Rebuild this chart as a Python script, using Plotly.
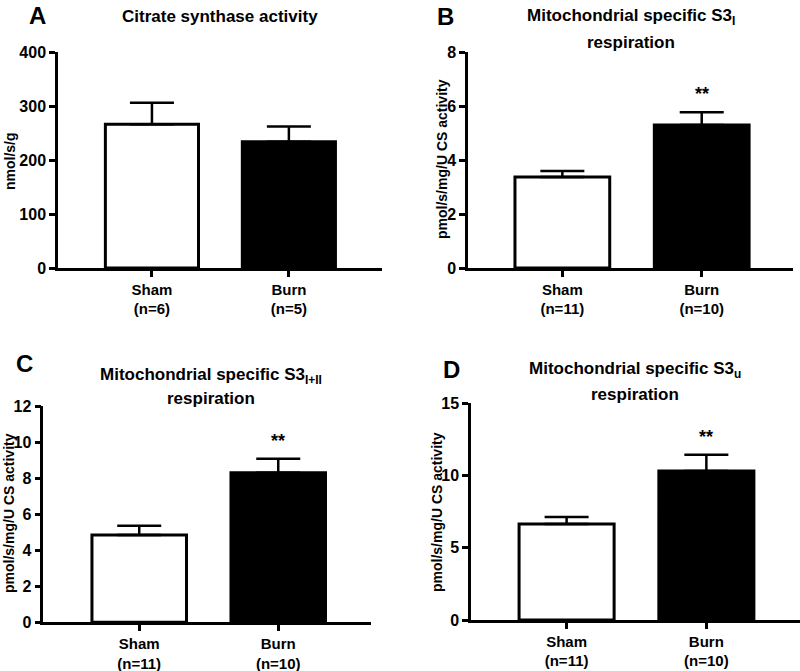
import plotly.graph_objects as go

groups = ["Sham", "Burn"]
n_A = ["(n=6)", "(n=5)"]
n_BCD = ["(n=11)", "(n=10)"]

cs_mean = [266, 234]
cs_sem = [40, 28]

s3i_mean = [3.37, 5.30]
s3i_sem = [0.22, 0.47]

s3iii_mean = [4.84, 8.30]
s3iii_sem = [0.52, 0.77]

s3u_mean = [6.65, 10.32]
s3u_sem = [0.48, 1.11]

sig_B = "**"
sig_C = "**"
sig_D = "**"

FONT = "Arial, Liberation Sans, sans-serif"
W, H = 800, 671

panels = [
    dict(mean=cs_mean, sem=cs_sem, ns=n_A, yr=[0, 400], dt=100,
         xd=[58/W, 382/W], yd=[1-268/H, 1-52/H], xr=[-0.686, 1.68], sig=None),
    dict(mean=s3i_mean, sem=s3i_sem, ns=n_BCD, yr=[0, 8], dt=2,
         xd=[468/W, 793/W], yd=[1-268/H, 1-52/H], xr=[-0.677, 1.655], sig=sig_B),
    dict(mean=s3iii_mean, sem=s3iii_sem, ns=n_BCD, yr=[0, 12], dt=2,
         xd=[43.3/W, 370.7/W], yd=[1-622.3/H, 1-406/H], xr=[-0.69, 1.665], sig=sig_C),
    dict(mean=s3u_mean, sem=s3u_sem, ns=n_BCD, yr=[0, 15], dt=5,
         xd=[471/W, 800/W], yd=[1-620/H, 1-403.3/H], xr=[-0.684, 1.67], sig=sig_D),
]

fig = go.Figure()
annotations = []
for i, p in enumerate(panels):
    k = "" if i == 0 else str(i + 1)
    fig.add_trace(go.Bar(
        x=[0, 1], y=p["mean"], width=0.68,
        marker=dict(color=["white", "black"], line=dict(color="black", width=3)),
        error_y=dict(type="data", symmetric=False, array=p["sem"], arrayminus=[0, 0],
                     color="black", thickness=2.5, width=22),
        xaxis="x" + k, yaxis="y" + k, showlegend=False,
    ))
    ticktext = [f"<b>{g}</b><br><b>{n}</b>" for g, n in zip(groups, p["ns"])]
    fig.layout["xaxis" + k] = dict(
        domain=p["xd"], range=p["xr"], anchor="y" + k, automargin=False,
        tickvals=[0, 1], ticktext=ticktext, showline=True, linewidth=2.5,
        linecolor="black", ticks="outside", ticklen=6, tickwidth=2.5, tickcolor="black",
        showgrid=False, zeroline=False, tickfont=dict(family=FONT, size=15, color="black"),
        fixedrange=True,
    )
    fig.layout["yaxis" + k] = dict(
        domain=p["yd"], range=p["yr"], dtick=p["dt"], anchor="x" + k, automargin=False,
        showline=True, linewidth=2.5, linecolor="black", ticks="outside", ticklen=6,
        tickwidth=2.5, tickcolor="black", showgrid=False, zeroline=False,
        tickfont=dict(family=FONT, size=16, color="black"),
        tickprefix="<b>", ticksuffix="</b>",
    )
    if p["sig"]:
        annotations.append(dict(
            x=1, y=p["mean"][1] + p["sem"][1], xref="x" + k, yref="y" + k,
            text="<b>" + p["sig"] + "</b>", showarrow=False, yanchor="middle", yshift=18,
            font=dict(family=FONT, size=18, color="black"),
        ))

def txt(x, y, text, size=14, angle=0, yanchor="middle"):
    annotations.append(dict(
        x=x / W, y=1 - y / H, xref="paper", yref="paper", text=text, showarrow=False,
        xanchor="center", yanchor=yanchor, textangle=angle,
        font=dict(family=FONT, size=size, color="black"),
    ))

# panel letters
txt(37, 0, "<b>A</b>", 24, yanchor="top")
txt(445, 1, "<b>B</b>", 24, yanchor="top")
txt(24, 348, "<b>C</b>", 24, yanchor="top")
txt(452, 354, "<b>D</b>", 24, yanchor="top")

# titles
txt(220, 17, "<b>Citrate synthase activity</b>", 17)
txt(631, 17, "<b>Mitochondrial specific S3<sub>I</sub></b>", 17)
txt(631, 42, "<b>respiration</b>", 17)
txt(211, 376, "<b>Mitochondrial specific S3<sub>I+II</sub></b>", 17)
txt(211, 398, "<b>respiration</b>", 17)
txt(635, 370, "<b>Mitochondrial specific S3<sub>u</sub></b>", 17)
txt(635, 394, "<b>respiration</b>", 17)

# y-axis titles
txt(10, 161, "<b>nmol/s/g</b>", 14, -90)
txt(442, 159, "<b>pmol/s/mg/U CS activity</b>", 14, -90)
txt(9, 513, "<b>pmol/s/mg/U CS activity</b>", 14, -90)
txt(437, 512, "<b>pmol/s/mg/U CS activity</b>", 14, -90)

fig.update_layout(
    width=W, height=H, margin=dict(l=0, r=0, t=0, b=0, autoexpand=False),
    paper_bgcolor="white", plot_bgcolor="white",
    font=dict(family=FONT, color="black"),
    annotations=annotations, bargap=0.3,
)
fig.write_html(
    "out.html",
    config={"displayModeBar": False},
    post_script="document.body.style.margin='0';document.body.style.overflow='hidden';",
)
